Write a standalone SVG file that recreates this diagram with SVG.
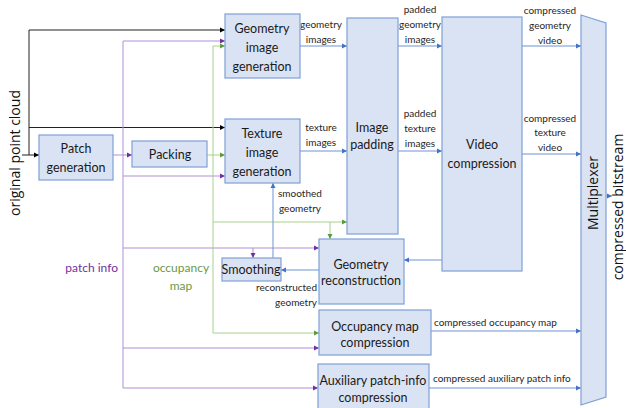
<svg xmlns="http://www.w3.org/2000/svg" width="626" height="408" viewBox="0 0 626 408">
<style>
.box{fill:#dae3f3;stroke:#7f9fd6;stroke-width:1.2}
.bt{font-family:Lato,"Liberation Sans",sans-serif;font-size:12.5px;fill:#1a1a1a;text-anchor:middle}
.lb{font-family:Lato,"Liberation Sans",sans-serif;font-size:10px;fill:#262626;text-anchor:middle}
.ls{font-family:Lato,"Liberation Sans",sans-serif;font-size:10px;fill:#262626;text-anchor:start}
.le{font-family:Lato,"Liberation Sans",sans-serif;font-size:10px;fill:#262626;text-anchor:end}
.vt{font-family:"Open Sans","Liberation Sans",sans-serif;font-size:14px;fill:#111;text-anchor:middle}
.k{fill:none;stroke:#222;stroke-width:1;marker-end:url(#ak)}
.kn{fill:none;stroke:#222;stroke-width:1}
.p{fill:none;stroke:#b18ed8;stroke-width:1;marker-end:url(#ap)}
.pn{fill:none;stroke:#b18ed8;stroke-width:1}
.g{fill:none;stroke:#a8cf8c;stroke-width:1;marker-end:url(#ag)}
.gn{fill:none;stroke:#a8cf8c;stroke-width:1}
.b{fill:none;stroke:#6f93d6;stroke-width:1;marker-end:url(#ab)}
</style>
<defs>
<marker id="ak" markerUnits="userSpaceOnUse" markerWidth="6" markerHeight="6" refX="5" refY="3" orient="auto"><path d="M0,0.5 L5,3 L0,5.5 Z" fill="#000"/></marker>
<marker id="ap" markerUnits="userSpaceOnUse" markerWidth="6" markerHeight="6" refX="5" refY="3" orient="auto"><path d="M0,0.5 L5,3 L0,5.5 Z" fill="#7030a0"/></marker>
<marker id="ag" markerUnits="userSpaceOnUse" markerWidth="6" markerHeight="6" refX="5" refY="3" orient="auto"><path d="M0,0.5 L5,3 L0,5.5 Z" fill="#5e9a35"/></marker>
<marker id="ab" markerUnits="userSpaceOnUse" markerWidth="6" markerHeight="6" refX="5" refY="3" orient="auto"><path d="M0,0.5 L5,3 L0,5.5 Z" fill="#4472c4"/></marker>
</defs>
<rect width="626" height="408" fill="#fff"/>

<g id="connectors">
<path class="k" d="M22,155 H39"/>
<path class="kn" d="M29,155 V30"/>
<path class="k" d="M29,30 H225"/>
<path class="k" d="M29,127.5 H225"/>
<path class="p" d="M113,155 H132"/>
<path class="pn" d="M123,41 V388"/>
<path class="p" d="M123,41 H225"/>
<path class="p" d="M123,176 H225"/>
<path class="p" d="M123,248 H319"/>
<path class="p" d="M253,248 V258"/>
<path class="p" d="M123,348 H319"/>
<path class="p" d="M123,388 H318"/>
<path class="g" d="M207,155 H225"/>
<path class="gn" d="M213,46 V333"/>
<path class="g" d="M213,46 H225"/>
<path class="g" d="M213,222 H347"/>
<path class="g" d="M330,222 V239"/>
<path class="g" d="M213,333 H319"/>
<path class="b" d="M300,46 H347"/>
<path class="b" d="M300,151 H347"/>
<path class="b" d="M398,46 H442"/>
<path class="b" d="M398,151 H442"/>
<path class="b" d="M522,46 H581"/>
<path class="b" d="M522,154 H581"/>
<path class="b" d="M442,260 H404"/>
<path class="b" d="M319,270 H281"/>
<path class="b" d="M273,258 V183"/>
<path class="b" d="M431,331 H581"/>
<path class="b" d="M429,388 H581"/>
<path class="b" d="M606,196 H612"/>
</g>

<g id="labels">
<text class="vt" transform="translate(20,153) rotate(-90)">original point cloud</text>
<text class="vt" transform="translate(623,207) rotate(-90)">compressed bitstream</text>
<text x="118" y="272" font-family="Lato,'Liberation Sans',sans-serif" font-size="12" fill="#7030a0" text-anchor="end">patch info</text>
<text x="181" y="272" font-family="Lato,'Liberation Sans',sans-serif" font-size="12" fill="#6a9a45" text-anchor="middle">occupancy</text>
<text x="181" y="290" font-family="Lato,'Liberation Sans',sans-serif" font-size="12" fill="#6a9a45" text-anchor="middle">map</text>
<text class="lb" x="321" y="28">geometry</text>
<text class="lb" x="321" y="43">images</text>
<text class="lb" x="321" y="131">texture</text>
<text class="lb" x="321" y="146">images</text>
<text class="lb" x="420" y="13">padded</text>
<text class="lb" x="420" y="28">geometry</text>
<text class="lb" x="420" y="43">images</text>
<text class="lb" x="420" y="117">padded</text>
<text class="lb" x="420" y="132">texture</text>
<text class="lb" x="420" y="147">images</text>
<text class="lb" x="550" y="14">compressed</text>
<text class="lb" x="550" y="29">geometry</text>
<text class="lb" x="550" y="44">video</text>
<text class="lb" x="550" y="122">compressed</text>
<text class="lb" x="550" y="136">texture</text>
<text class="lb" x="550" y="151">video</text>
<text class="ls" x="278" y="197">smoothed</text>
<text class="ls" x="279" y="212">geometry</text>
<text class="le" x="317" y="291">reconstructed</text>
<text class="le" x="317" y="306">geometry</text>
<text class="ls" x="434" y="326">compressed occupancy map</text>
<text class="ls" x="433" y="382">compressed auxiliary patch info</text>
</g>

<g id="patch-generation">
<rect class="box" x="39" y="135" width="74" height="45"/>
<text class="bt" x="76" y="153">Patch</text>
<text class="bt" x="76" y="172">generation</text>
</g>
<g id="packing">
<rect class="box" x="132" y="141" width="75" height="26"/>
<text class="bt" x="170" y="159">Packing</text>
</g>
<g id="geometry-image-generation">
<rect class="box" x="225" y="14" width="75" height="64"/>
<text class="bt" x="262" y="33">Geometry</text>
<text class="bt" x="262" y="52">image</text>
<text class="bt" x="262" y="71">generation</text>
</g>
<g id="texture-image-generation">
<rect class="box" x="225" y="119" width="75" height="64"/>
<text class="bt" x="262" y="138">Texture</text>
<text class="bt" x="262" y="157">image</text>
<text class="bt" x="262" y="176">generation</text>
</g>
<g id="image-padding">
<rect class="box" x="347" y="18" width="51" height="216"/>
<text class="bt" x="372" y="132">Image</text>
<text class="bt" x="372" y="149">padding</text>
</g>
<g id="video-compression">
<rect class="box" x="442" y="17" width="80" height="254"/>
<text class="bt" x="482" y="149">Video</text>
<text class="bt" x="482" y="168">compression</text>
</g>
<g id="multiplexer">
<polygon class="box" points="581,15 606,23 606,397 581,405"/>
<text class="vt" transform="translate(598,193) rotate(-90)">Multiplexer</text>
</g>
<g id="geometry-reconstruction">
<rect class="box" x="319" y="239" width="85" height="65"/>
<text class="bt" x="361" y="269">Geometry</text>
<text class="bt" x="361" y="285">reconstruction</text>
</g>
<g id="smoothing">
<rect class="box" x="222" y="258" width="59" height="23"/>
<text class="bt" x="251" y="274">Smoothing</text>
</g>
<g id="occupancy-map-compression">
<rect class="box" x="319" y="310" width="112" height="45"/>
<text class="bt" x="375" y="331">Occupancy map</text>
<text class="bt" x="375" y="347">compression</text>
</g>
<g id="auxiliary-patch-info-compression">
<rect class="box" x="318" y="364" width="111" height="50"/>
<text class="bt" x="373" y="385">Auxiliary patch-info</text>
<text class="bt" x="373" y="402">compression</text>
</g>
</svg>
